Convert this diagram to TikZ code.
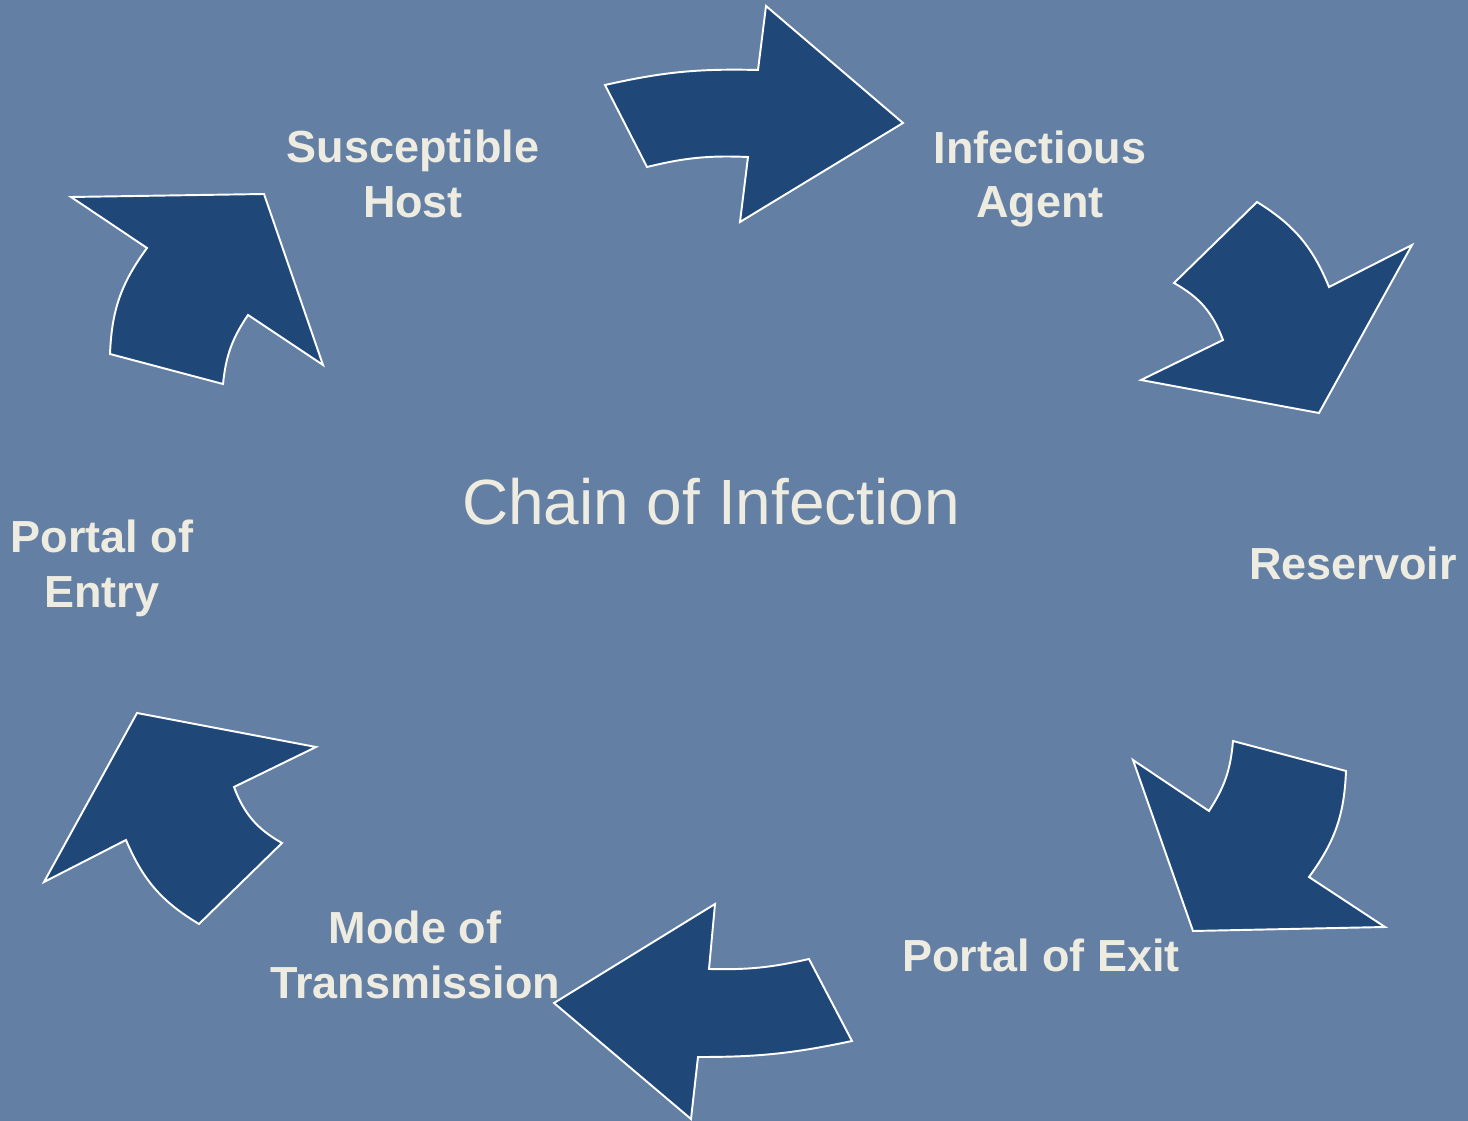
\documentclass[tikz,border=0pt]{standalone}
\usepackage{fontspec}
\setmainfont{Liberation Sans}
\usepackage{tikz}
\definecolor{slateblue}{RGB}{99,128,164}
\definecolor{arrowblue}{RGB}{31,72,121}
\definecolor{cream}{RGB}{238,235,224}

\tikzset{
  blockarrow/.style={fill=arrowblue, draw=white, line width=1.1pt},
  stage/.style={text=cream, font=\bfseries\fontsize{25.6}{31.2}\selectfont, align=center, inner sep=0pt},
}

\begin{document}
\begin{tikzpicture}[x=0.02cm, y=-0.02cm]
  \fill[slateblue] (0,0) rectangle (1468,1121);
  \useasboundingbox (0,0) rectangle (1468,1121);

  \node[text=cream, font=\fontsize{36.4}{40}\selectfont, anchor=base] (title) at (711,525) {Chain of Infection};

  \draw[blockarrow] (605,85) to[bend left=7] (758,70) -- (766,6) -- (903,123) -- (740,222) -- (748,157) to[bend right=8] (647,167) -- cycle;
  \draw[blockarrow] (1257,202) to[bend left=18] (1329,287) -- (1412,245) -- (1319,413) -- (1141,380) -- (1223,340) to[bend right=20] (1174,283) -- cycle;
  \draw[blockarrow] (1209,811) to[bend right=14] (1233,741) -- (1346,771) to[bend left=17] (1309,877) -- (1385,927) -- (1193,931) -- (1133,760) -- cycle;
  \draw[blockarrow] (852,1041) to[bend left=6] (698,1057) -- (691,1119) -- (554,1003) -- (715,904) -- (709,969) to[bend right=7] (809,959) -- cycle;
  \draw[blockarrow] (199,924) to[bend left=18] (126,840) -- (44,882) -- (137,713) -- (316,747) -- (234,787) to[bend right=20] (282,843) -- cycle;
  \draw[blockarrow] (110,354) to[bend left=17] (147,248) -- (71,197) -- (264,194) -- (323,365) -- (248,315) to[bend right=14] (223,384) -- cycle;

  \node[stage] (host) at (413,174) {Susceptible\\Host};
  \node[stage] (agent) at (1040,179) {Infectious\\Agent};
  \node[stage, anchor=base] (reservoir) at (1353,580) {Reservoir};
  \node[stage, anchor=base] (exit) at (1041,971) {Portal of Exit};
  \node[stage] (mode) at (415,955) {Mode of\\Transmission};
  \node[stage] (entry) at (102,568) {Portal of\\Entry};
\end{tikzpicture}
\end{document}
